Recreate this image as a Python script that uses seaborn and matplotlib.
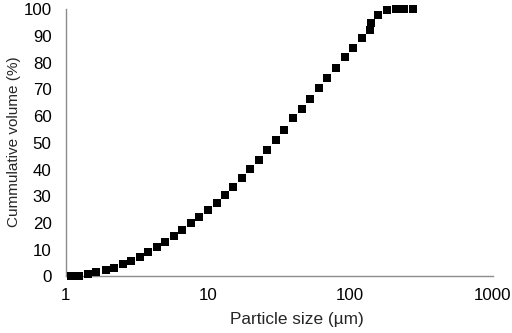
import numpy as np
import pandas as pd
import matplotlib
matplotlib.use("Agg")
import matplotlib.pyplot as plt
import seaborn as sns
from matplotlib.ticker import FixedLocator, FixedFormatter, NullLocator

# particle size (um) and cumulative volume (%)
particle_size = [1.09, 1.25, 1.44, 1.65, 1.91, 2.19, 2.52, 2.88, 3.33, 3.81,
                 4.37, 4.99, 5.77, 6.54, 7.57, 8.70, 9.97, 11.5, 13.2, 15.1,
                 17.3, 19.9, 22.9, 26.2, 30.1, 34.5, 39.5, 45.7, 52.3, 60.1,
                 69.1, 79.6, 91.6, 105.4, 120.7, 137.0, 139.5, 157.8, 180.9,
                 209, 239, 275]
cum_volume = [0.0, 0.2, 0.8, 1.7, 2.3, 3.3, 4.7, 5.8, 7.4, 9.3,
              10.9, 13.0, 15.2, 17.4, 19.9, 22.4, 24.9, 27.6, 30.5, 33.6,
              36.8, 40.3, 43.7, 47.4, 51.0, 54.8, 59.3, 62.6, 66.6, 70.5,
              74.3, 78.2, 82.1, 85.7, 89.2, 92.3, 94.9, 97.9, 99.6,
              100.0, 100.0, 100.0]

x_ticks = [1, 10, 100, 1000]
y_ticks = list(range(0, 101, 10))

sns.set_style("white")
plt.rcParams['font.family'] = ['Liberation Sans', 'DejaVu Sans']

df = pd.DataFrame({"size": particle_size, "volume": cum_volume})

fig = plt.figure(figsize=(5.12, 3.33), dpi=100)
ax = fig.add_axes([0.128, 0.170, 0.834, 0.802])

sns.scatterplot(data=df, x="size", y="volume", marker="s", s=40,
                color="black", linewidth=0, ax=ax, clip_on=False, zorder=3)

ax.set_xscale("log")
ax.set_xlim(1, 1000)
ax.set_ylim(0, 100)
ax.xaxis.set_major_locator(FixedLocator(x_ticks))
ax.xaxis.set_major_formatter(FixedFormatter([str(t) for t in x_ticks]))
ax.xaxis.set_minor_locator(NullLocator())
ax.set_yticks(y_ticks)

ax.set_xlabel("Particle size (µm)", fontsize=12.4)
ax.set_ylabel("Cummulative volume (%)", fontsize=11)
ax.xaxis.set_label_coords(0.542, -0.132)
ax.yaxis.set_label_coords(-0.105, 0.506)

for side in ["top", "right"]:
    ax.spines[side].set_visible(False)
for side in ["left", "bottom"]:
    ax.spines[side].set_color("#8c8c8c")
    ax.spines[side].set_linewidth(1.0)

ax.tick_params(axis="both", direction="in", length=4, width=1,
               color="#8c8c8c", labelsize=12.2, labelcolor="black")
ax.tick_params(axis="x", pad=8.5)
ax.tick_params(axis="y", pad=10)

plt.savefig("out.png", dpi=100)
